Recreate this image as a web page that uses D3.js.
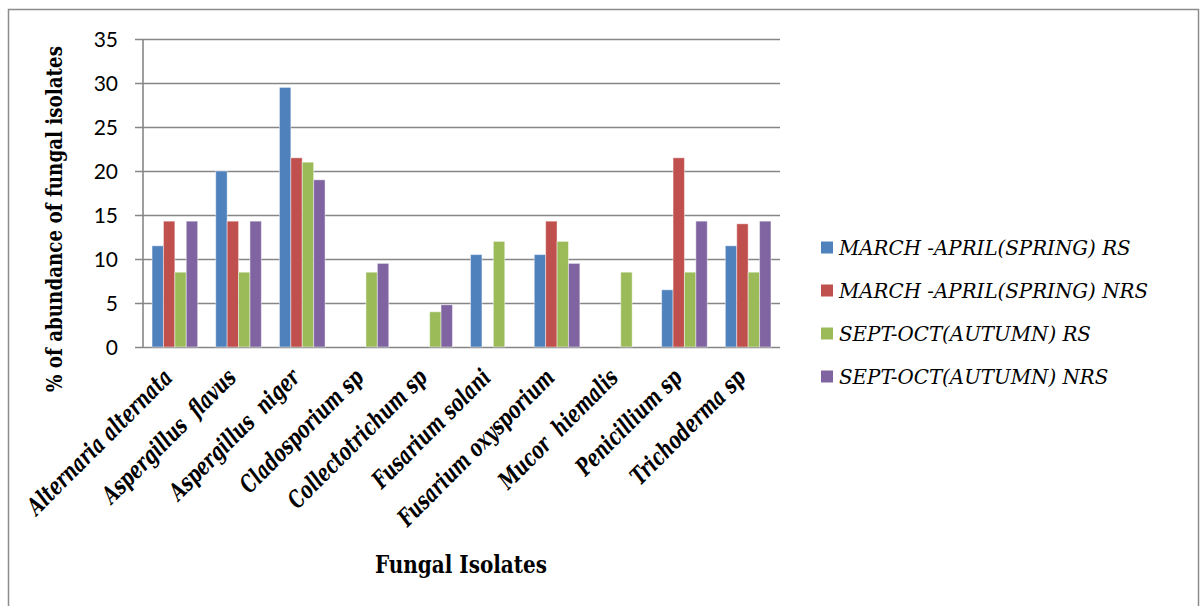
<!DOCTYPE html>
<html>
<head>
<meta charset="utf-8">
<script src="https://cdn.jsdelivr.net/npm/d3@7/dist/d3.min.js"></script>
<style>
  html, body { margin: 0; padding: 0; background: #fff; }
  svg { display: block; }
  .serif { font-family: "DejaVu Serif Condensed", "DejaVu Serif", serif; }
</style>
</head>
<body>
<svg id="chart" width="1200" height="606"></svg>
<script>
// Fungal isolates and their % abundance per season / soil type
const isolates = [
  "Alternaria alternata", "Aspergillus  flavus", "Aspergillus  niger",
  "Cladosporium sp", "Collectotrichum sp", "Fusarium solani",
  "Fusarium oxysporium", "Mucor  hiemalis", "Penicillium sp", "Trichoderma sp"
];
const seriesNames = [
  "MARCH -APRIL(SPRING) RS",
  "MARCH -APRIL(SPRING) NRS",
  "SEPT-OCT(AUTUMN) RS",
  "SEPT-OCT(AUTUMN) NRS"
];
const springRS   = [11.5, 20, 29.5, 0, 0, 10.5, 10.5, 0, 6.5, 11.5];
const springNRS  = [14.3, 14.3, 21.5, 0, 0, 0, 14.3, 0, 21.5, 14];
const autumnRS   = [8.5, 8.5, 21, 8.5, 4, 12, 12, 8.5, 8.5, 8.5];
const autumnNRS  = [14.3, 14.3, 19, 9.5, 4.8, 0, 9.5, 0, 14.3, 14.3];
const yTicks = [0, 5, 10, 15, 20, 25, 30, 35];
const colors = ["#4F81BD", "#C0504D", "#9BBB59", "#8064A2"];

const allSeries = [springRS, springNRS, autumnRS, autumnNRS];

const svg = d3.select("#chart");
const plot = { left: 143, right: 780, top: 39, bottom: 347 };

// narrow a group of serif texts so that one reference string spans the wanted length,
// keeping the glyph height set by the font size
function narrowText(sel, refNode, wanted) {
  const k = wanted / refNode.getComputedTextLength();
  sel.each(function () {
    const natural = this.getComputedTextLength();
    d3.select(this)
      .attr("textLength", natural * k)
      .attr("lengthAdjust", "spacingAndGlyphs");
  });
}

// outer frame
svg.append("rect")
  .attr("x", 8.5).attr("y", 9.5)
  .attr("width", 1190).attr("height", 610)
  .attr("fill", "none").attr("stroke", "#8c8c8c").attr("stroke-width", 1.5);

const x0 = d3.scaleBand()
  .domain(isolates)
  .range([plot.left, plot.right])
  .paddingInner(0.284)
  .paddingOuter(0.142);

const x1 = d3.scaleBand()
  .domain(d3.range(seriesNames.length))
  .range([0, x0.bandwidth()])
  .padding(0);

const y = d3.scaleLinear().domain([0, 35]).range([plot.bottom, plot.top]);

// horizontal gridlines with short outward ticks
const yAxis = d3.axisLeft(y)
  .tickValues(yTicks)
  .tickSize(-(plot.right - plot.left))
  .tickSizeOuter(0)
  .tickFormat("");
const gy = svg.append("g")
  .attr("transform", `translate(${plot.left},0)`)
  .call(yAxis);
gy.select(".domain").remove();
gy.selectAll(".tick line")
  .attr("x1", -8)
  .attr("stroke", "#868686").attr("stroke-width", 1.6);

// vertical axis line
svg.append("line")
  .attr("x1", plot.left).attr("x2", plot.left)
  .attr("y1", y(35)).attr("y2", y(0))
  .attr("stroke", "#868686").attr("stroke-width", 1.6);

// y tick labels
svg.append("g").selectAll("text")
  .data(yTicks)
  .join("text")
  .attr("x", 118)
  .attr("y", d => y(d))
  .attr("dy", "0.36em")
  .attr("text-anchor", "end")
  .style("font-family", "Lato, 'Liberation Sans', sans-serif")
  .style("font-size", "21px")
  .attr("fill", "#000")
  .text(d => d);

// bars
const groups = svg.append("g").selectAll("g")
  .data(isolates)
  .join("g")
  .attr("transform", d => `translate(${x0(d)},0)`);

groups.selectAll("rect")
  .data((d, i) => allSeries.map((s, k) => ({ k, v: s[i] })).filter(e => e.v > 0))
  .join("rect")
  .attr("x", d => x1(d.k))
  .attr("y", d => y(d.v))
  .attr("width", x1.bandwidth())
  .attr("height", d => y(0) - y(d.v))
  .attr("fill", d => colors[d.k])
  .attr("stroke", "rgba(255,255,255,0.45)")
  .attr("stroke-width", 1);

// category labels, rotated
const catLabels = svg.append("g").selectAll("text")
  .data(isolates)
  .join("text")
  .attr("class", "serif")
  .attr("transform", d => `translate(${x0(d) + x0.bandwidth() / 2 - 1},${plot.bottom + 32}) rotate(-45)`)
  .attr("text-anchor", "end")
  .style("font-size", "24px")
  .style("font-weight", "bold")
  .style("font-style", "italic")
  .style("white-space", "pre")
  .attr("fill", "#000")
  .text(d => d);
narrowText(catLabels, catLabels.nodes()[0], 194);

// axis titles
const yTitle = svg.append("text")
  .attr("class", "serif")
  .attr("transform", "translate(62,219) rotate(-90)")
  .attr("text-anchor", "middle")
  .style("font-size", "22px")
  .style("font-weight", "bold")
  .attr("fill", "#000")
  .text("% of abundance of fungal isolates");
narrowText(yTitle, yTitle.node(), 346);

const xTitle = svg.append("text")
  .attr("class", "serif")
  .attr("x", 461)
  .attr("y", 573)
  .attr("text-anchor", "middle")
  .style("font-size", "24px")
  .style("font-weight", "bold")
  .attr("fill", "#000")
  .text("Fungal Isolates");
narrowText(xTitle, xTitle.node(), 172);

// legend
const legend = svg.append("g").selectAll("g")
  .data(seriesNames)
  .join("g")
  .attr("transform", (d, i) => `translate(821,${247.5 + i * 43})`);
legend.append("rect")
  .attr("x", 0).attr("y", -6)
  .attr("width", 12).attr("height", 12)
  .attr("fill", (d, i) => colors[i]);
const legText = legend.append("text")
  .attr("class", "serif")
  .attr("x", 18)
  .attr("y", 7)
  .style("font-size", "20.5px")
  .style("font-style", "italic")
  .attr("fill", "#000")
  .text(d => d);
narrowText(legText, legText.nodes()[1], 309);
</script>
</body>
</html>
